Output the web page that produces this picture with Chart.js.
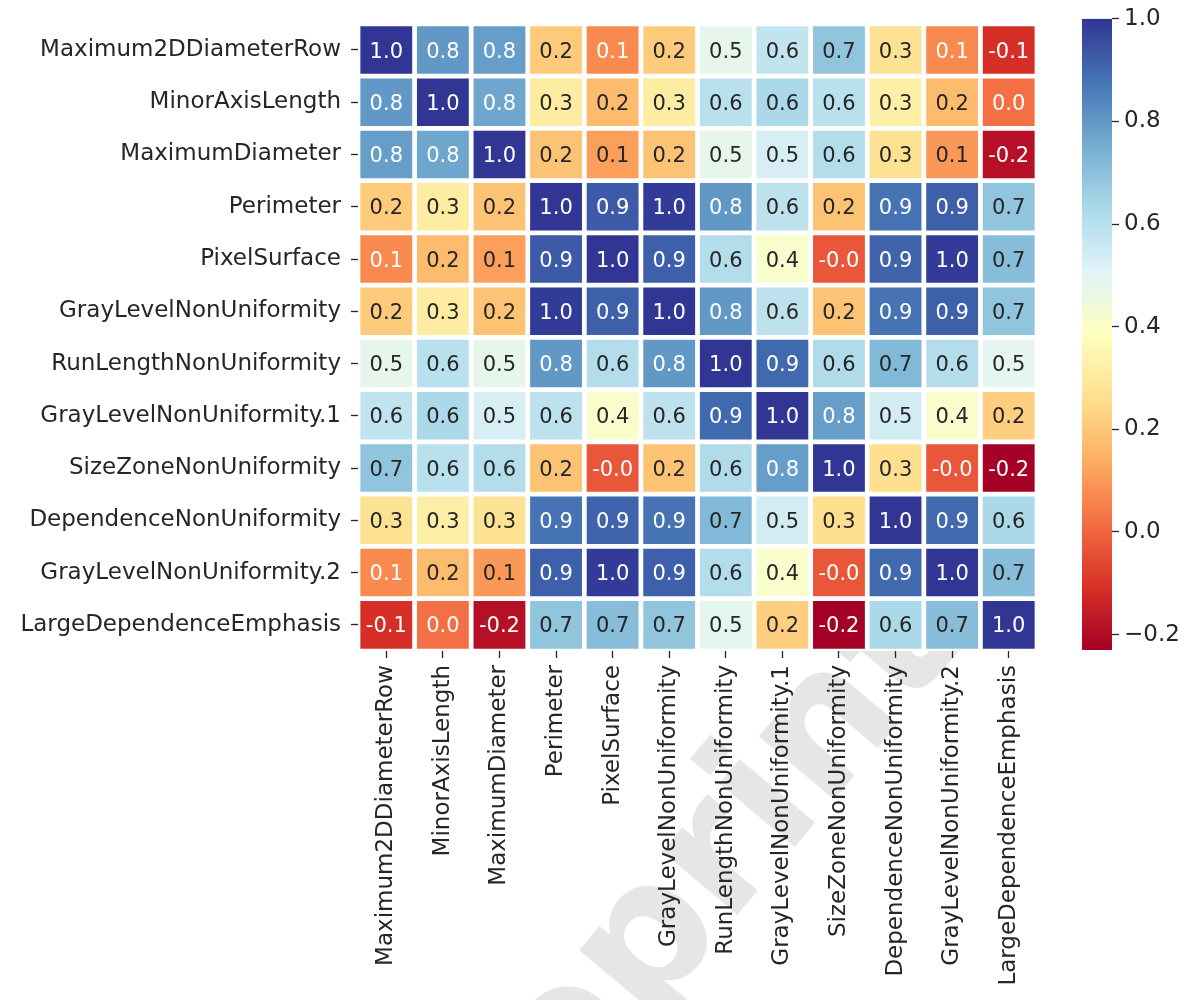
<!DOCTYPE html>
<html>
<head>
<meta charset="utf-8">
<title>Feature correlation heatmap</title>
<script src="https://cdn.jsdelivr.net/npm/chart.js@4/dist/chart.umd.min.js"></script>
<style>
  html, body { margin: 0; padding: 0; background: #ffffff; }
  #wrap { position: relative; width: 1191px; height: 1000px; overflow: hidden; }
  #heat { position: absolute; left: 0; top: 0; }
  #cbar { position: absolute; left: 1040px; top: 0; }
</style>
</head>
<body>
<div id="wrap">
  <canvas id="heat" width="1060" height="1000"></canvas>
  <canvas id="cbar" width="151" height="1000"></canvas>
</div>
<script>
// Radiomic feature names (rows top-to-bottom, columns left-to-right)
const features = [
  'Maximum2DDiameterRow', 'MinorAxisLength', 'MaximumDiameter', 'Perimeter',
  'PixelSurface', 'GrayLevelNonUniformity', 'RunLengthNonUniformity',
  'GrayLevelNonUniformity.1', 'SizeZoneNonUniformity', 'DependenceNonUniformity',
  'GrayLevelNonUniformity.2', 'LargeDependenceEmphasis'
];

// Pearson correlation of each feature with every feature (same column order)
const corrMaximum2DDiameterRow    = [ 1.00, 0.80, 0.79, 0.21, 0.07, 0.21, 0.48, 0.58, 0.69, 0.27, 0.07, -0.11];
const corrMinorAxisLength         = [ 0.80, 1.00, 0.77, 0.31, 0.17, 0.31, 0.60, 0.63, 0.60, 0.32, 0.17,  0.02];
const corrMaximumDiameter         = [ 0.79, 0.77, 1.00, 0.19, 0.11, 0.19, 0.48, 0.53, 0.61, 0.27, 0.10, -0.19];
const corrPerimeter               = [ 0.21, 0.31, 0.19, 1.00, 0.93, 0.99, 0.80, 0.59, 0.19, 0.88, 0.92,  0.69];
const corrPixelSurface            = [ 0.07, 0.17, 0.11, 0.93, 1.00, 0.92, 0.61, 0.41, -0.03, 0.91, 0.99, 0.71];
const corrGrayLevelNonUniformity  = [ 0.21, 0.31, 0.19, 0.99, 0.92, 1.00, 0.80, 0.59, 0.19, 0.88, 0.92,  0.69];
const corrRunLengthNonUniformity  = [ 0.48, 0.60, 0.48, 0.80, 0.61, 0.80, 1.00, 0.90, 0.62, 0.72, 0.61,  0.49];
const corrGrayLevelNonUniformity1 = [ 0.58, 0.63, 0.53, 0.59, 0.41, 0.59, 0.90, 1.00, 0.79, 0.54, 0.41,  0.22];
const corrSizeZoneNonUniformity   = [ 0.69, 0.60, 0.61, 0.19, -0.03, 0.19, 0.62, 0.79, 1.00, 0.26, -0.03, -0.23];
const corrDependenceNonUniformity = [ 0.27, 0.32, 0.27, 0.88, 0.91, 0.88, 0.72, 0.54, 0.26, 1.00, 0.90,  0.63];
const corrGrayLevelNonUniformity2 = [ 0.07, 0.17, 0.10, 0.92, 0.99, 0.92, 0.61, 0.41, -0.03, 0.90, 1.00, 0.71];
const corrLargeDependenceEmphasis = [-0.11, 0.02, -0.19, 0.69, 0.71, 0.69, 0.49, 0.22, -0.23, 0.63, 0.71, 1.00];

// Colour bar tick values
const colorbarTicks = [-0.2, 0.0, 0.2, 0.4, 0.6, 0.8, 1.0];

const corrRows = [
  corrMaximum2DDiameterRow, corrMinorAxisLength, corrMaximumDiameter, corrPerimeter,
  corrPixelSurface, corrGrayLevelNonUniformity, corrRunLengthNonUniformity,
  corrGrayLevelNonUniformity1, corrSizeZoneNonUniformity, corrDependenceNonUniformity,
  corrGrayLevelNonUniformity2, corrLargeDependenceEmphasis
];

const FONT = '"DejaVu Sans", "Liberation Sans", sans-serif';
const TXT = '#262626';

// RdYlBu diverging colormap anchors (low -> high)
const RdYlBu = ['#a50026', '#d73027', '#f46d43', '#fdae61', '#fee090', '#ffffbf',
                '#e0f3f8', '#abd9e9', '#74add1', '#4575b4', '#313695'];
const anchors = RdYlBu.map(h => [1, 3, 5].map(k => parseInt(h.substr(k, 2), 16)));

const allValues = corrRows.flat();
const vmin = Math.min(...allValues);
const vmax = Math.max(...allValues);

function cmap(v) {
  let t = (v - vmin) / (vmax - vmin);
  t = Math.max(0, Math.min(1, t));
  const s = t * (anchors.length - 1);
  const i = Math.min(anchors.length - 2, Math.floor(s));
  const f = s - i;
  return anchors[i].map((c, k) => Math.round(c + (anchors[i + 1][k] - c) * f));
}
const rgb = c => `rgb(${c[0]},${c[1]},${c[2]})`;
function luminance(c) {
  const lin = x => { x /= 255; return x <= 0.03928 ? x / 12.92 : Math.pow((x + 0.055) / 1.055, 2.4); };
  return 0.2126 * lin(c[0]) + 0.7152 * lin(c[1]) + 0.0722 * lin(c[2]);
}

// One floating-bar dataset per column; each bar is one cell of that column
const datasets = features.map((name, j) => ({
  label: name,
  data: features.map(() => [j, j + 1]),
  backgroundColor: ctx => rgb(cmap(corrRows[ctx.dataIndex][j])),
  borderColor: '#ffffff',
  borderWidth: 2.7,
  borderSkipped: false,
  grouped: false,
  barPercentage: 1,
  categoryPercentage: 1
}));

// Value annotation inside every cell
const cellLabels = {
  id: 'cellLabels',
  afterDatasetsDraw(chart) {
    const ctx = chart.ctx;
    ctx.save();
    ctx.font = '21px ' + FONT;
    ctx.textAlign = 'center';
    ctx.textBaseline = 'alphabetic';
    chart.data.datasets.forEach((ds, j) => {
      chart.getDatasetMeta(j).data.forEach((bar, i) => {
        const v = corrRows[i][j];
        ctx.fillStyle = luminance(cmap(v)) > 0.408 ? TXT : '#ffffff';
        const p = bar.getCenterPoint();
        ctx.fillText(v.toFixed(1), p.x, p.y + 7.6);
      });
    });
    ctx.restore();
  }
};

// Faint diagonal watermark behind the figure
const watermark = {
  id: 'watermark',
  beforeDraw(chart) {
    const ctx = chart.ctx;
    ctx.save();
    ctx.translate(645, 1025);
    ctx.rotate(-50 * Math.PI / 180);
    ctx.font = 'bold 180px ' + FONT;
    ctx.fillStyle = '#e6e6e6';
    ctx.textAlign = 'left';
    ctx.textBaseline = 'alphabetic';
    const lead = ctx.measureText('pre').width;
    ctx.fillText('preprint', -lead, 0);
    ctx.restore();
  }
};

const tickGrid = {
  drawOnChartArea: false,
  drawTicks: true,
  tickLength: 7,
  tickWidth: 1.3,
  tickColor: TXT,
  offset: false
};

new Chart(document.getElementById('heat'), {
  type: 'bar',
  data: { labels: features, datasets },
  options: {
    indexAxis: 'y',
    responsive: false,
    animation: false,
    layout: { padding: { top: 18, right: 23, left: 0, bottom: 0 } },
    plugins: { legend: { display: false }, tooltip: { enabled: false } },
    scales: {
      y: {
        type: 'category',
        offset: true,
        grid: tickGrid,
        border: { display: false },
        ticks: { color: TXT, font: { family: FONT, size: 23 }, padding: 10, autoSkip: false },
        afterFit: s => { s.width = 358; }
      },
      x: {
        type: 'linear',
        min: 0,
        max: features.length,
        grid: tickGrid,
        border: { display: false },
        afterBuildTicks: s => { s.ticks = features.map((_, j) => ({ value: j + 0.5 })); },
        ticks: {
          color: TXT, font: { family: FONT, size: 23 }, padding: 7, autoSkip: false,
          maxRotation: 90, minRotation: 90,
          callback: v => features[Math.round(v - 0.5)]
        },
        afterFit: s => { s.height = 349; }
      }
    }
  },
  plugins: [watermark, cellLabels]
});

// Colour bar: a single floating bar spanning the value range, filled with the colormap
new Chart(document.getElementById('cbar'), {
  type: 'bar',
  data: {
    labels: [''],
    datasets: [{
      data: [[vmin, vmax]],
      backgroundColor: ctx => {
        const area = ctx.chart.chartArea;
        if (!area) return '#cccccc';
        const g = ctx.chart.ctx.createLinearGradient(0, area.bottom, 0, area.top);
        RdYlBu.forEach((c, k) => g.addColorStop(k / (RdYlBu.length - 1), c));
        return g;
      },
      borderWidth: 0,
      barPercentage: 1,
      categoryPercentage: 1
    }]
  },
  options: {
    responsive: false,
    animation: false,
    layout: { padding: { left: 42, top: 18, bottom: 350, right: 0 } },
    plugins: { legend: { display: false }, tooltip: { enabled: false } },
    scales: {
      x: { display: false },
      y: {
        position: 'right',
        min: vmin,
        max: vmax,
        afterBuildTicks: s => { s.ticks = colorbarTicks.map(v => ({ value: v })); },
        grid: { drawOnChartArea: false, drawTicks: true, tickLength: 7, tickWidth: 1.3, tickColor: TXT },
        border: { display: false },
        ticks: {
          color: TXT, font: { family: FONT, size: 23 }, padding: 5,
          callback: v => (v < 0 ? '\u2212' : '') + Math.abs(v).toFixed(1)
        },
        afterFit: s => { s.width = 79; }
      }
    }
  }
});
</script>
</body>
</html>
